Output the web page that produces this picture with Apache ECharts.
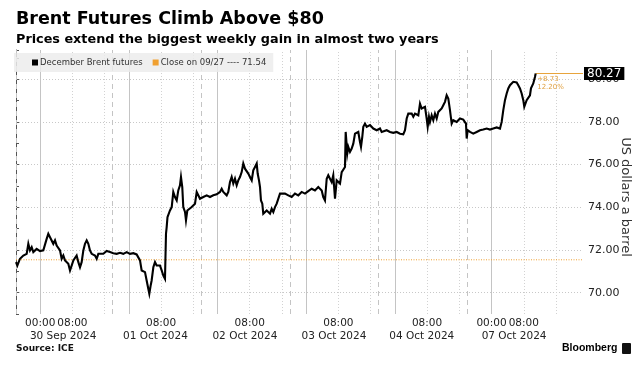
<!DOCTYPE html>
<html>
<head>
<meta charset="utf-8">
<script src="https://cdn.jsdelivr.net/npm/echarts@6/dist/echarts.min.js"></script>
<style>
html,body{margin:0;padding:0;background:#fff;}
#chart{width:644px;height:371px;}
</style>
</head>
<body>
<div id="chart"></div>
<script>
// x values are trading hours elapsed since the session open (Sun 29 Sep 18:00 ET)
const hours = [0,0.33,0.99,1.82,2.65,3.06,3.47,3.89,4.30,4.71,5.13,5.96,6.78,7.20,7.61,8.02,8.44,8.85,9.26,9.68,10.09,10.50,10.92,11.33,11.74,12.16,12.57,12.98,13.40,13.81,14.23,14.64,15.05,15.47,15.88,16.29,16.71,17.12,17.54,17.95,18.36,18.78,19.19,19.60,20.02,20.43,20.84,21.67,22.50,23.33,23.74,24.15,24.98,25.81,26.63,27.46,28.29,29.11,29.94,30.35,30.77,31.18,31.59,32.01,32.42,32.83,33.08,33.41,33.66,34.08,34.49,34.90,35.32,35.73,36.15,36.56,36.97,37.10,37.22,
37.39,37.59,38.21,38.64,39.03,39.45,39.88,40.27,40.69,40.94,41.26,41.51,41.94,42.18,42.51,43.00,43.60,44.00,44.42,44.84,45.24,45.66,46.08,46.48,47.32,48.14,48.96,49.80,50.62,51.04,51.44,51.86,52.28,52.68,53.10,53.52,53.92,54.34,54.76,55.16,55.58,56.00,56.40,56.82,57.24,57.64,58.06,58.49,58.88,59.31,59.73,59.97,60.30,60.55,60.79,61.12,61.36,61.79,62.21,62.61,63.03,63.45,63.85,64.27,64.69,65.09,65.51,65.93,66.75,67.57,68.41,69.23,70.05,70.89,71.71,72.53,73.37,74.19,75.01,75.86,76.25,76.67,77.10,77.49,77.92,78.34,78.73,79.16,79.58,79.98,80.40,80.82,81.22,81.64,81.81,82.21,82.46,82.88,83.30,83.70,84.12,84.54,84.94,85.36,85.61,85.93,86.18,86.60,87.02,87.42,87.84,88.66,89.08,89.50,90.32,90.74,91.14,91.98,92.80,93.62,94.47,95.29,96.11,96.53,96.95,97.35,97.77,98.19,98.59,99.01,99.43,99.83,100.25,100.67,101.07,101.49,101.91,102.16,102.48,102.73,103.15,103.55,103.97,104.39,104.79,105.21,105.63,106.03,106.45,106.87,107.27,107.69,108.11,108.51,108.93,109.35,109.75,110.17,110.59,110.99,111.41,111.66,111.84,112.08,112.66,113.47,114.31,115.14,115.95,116.80,117.62,118.44,119.28,120.10,120.52,120.92,121.34,121.76,122.16,122.58,123.00,123.40,123.82,124.24,124.64,125.06,125.48,125.88,126.13,126.48,126.72,127.12,127.54,127.79,128.11,128.36,128.61,128.78,128.96];
const prices = [71.43,71.27,71.59,71.74,71.82,72.29,71.98,72.13,71.90,71.98,72.05,71.95,71.98,72.01,72.52,72.76,72.60,72.68,72.29,72.45,72.21,72.13,71.98,71.59,71.74,71.51,71.59,71.35,71.04,71.27,71.51,71.59,71.74,71.43,71.19,71.43,71.98,72.29,72.45,72.29,71.98,71.82,71.90,71.74,71.59,71.82,71.90,71.82,71.95,71.90,71.98,71.85,71.82,71.87,71.82,71.90,71.82,71.85,71.79,71.74,71.51,71.04,71.12,70.96,70.57,70.18,69.95,70.33,70.57,71.19,71.43,71.27,71.35,71.27,71.04,70.80,70.65,70.60,72.76,
73.07,73.54,73.85,74.01,74.72,74.48,74.32,74.79,75.03,75.42,74.95,74.01,73.78,73.39,73.85,73.78,74.01,73.93,74.17,74.72,74.79,74.40,74.32,74.48,74.56,74.48,74.56,74.61,74.72,74.87,74.72,74.64,74.56,74.72,75.18,75.42,75.11,75.34,75.03,75.26,75.42,75.65,76.05,75.81,75.73,75.58,75.42,75.26,75.73,75.89,76.05,75.58,75.26,74.95,74.32,74.17,73.70,73.62,73.85,73.78,73.70,73.93,73.78,74.01,74.17,74.25,74.64,74.72,74.64,74.56,74.48,74.64,74.56,74.72,74.64,74.76,74.87,74.79,74.95,74.79,74.48,74.32,75.34,75.50,75.42,75.18,75.50,74.40,75.26,75.34,75.11,75.65,75.73,75.89,77.53,76.52,76.83,76.60,76.75,76.98,77.45,77.38,77.53,77.06,76.83,77.30,77.77,77.92,77.77,77.69,77.85,77.69,77.77,77.61,77.69,77.53,77.49,77.61,77.53,77.49,77.53,77.45,77.42,77.61,78.16,78.39,78.31,78.39,78.24,78.39,78.47,78.31,78.86,78.63,78.55,78.71,78.16,77.77,78.24,78.00,78.31,78.08,78.39,78.16,78.47,78.39,78.63,78.78,78.94,79.25,79.10,78.55,77.92,78.08,78.16,78.00,78.08,78.16,78.08,78.11,78.08,77.92,77.22,77.61,77.53,77.45,77.53,77.61,77.64,77.69,77.64,77.69,77.74,77.69,78.00,78.55,79.02,79.33,79.57,79.72,79.80,79.88,79.80,79.85,79.72,79.57,79.33,79.02,78.71,78.78,79.02,79.10,79.25,79.57,79.49,79.80,79.88,80.11,80.27];

const closePrice = 71.54;
const seriesName = 'December Brent futures';
const closeName = 'Close on 09/27 ---- 71.54';

const yTicks = [70, 72, 74, 76, 78, 80];
const sessionBreakHours = [0, 24, 46, 68, 90, 112];
const midnightHours = [6, 28, 50, 72, 94, 118];
const intradayHours = [14, 22, 36, 44, 58, 66, 80, 88, 102, 110, 126, 134];
const timeLabelHours = [6, 14, 36, 58, 80, 102, 118, 126];
const timeLabels = ['00:00', '08:00', '08:00', '08:00', '08:00', '08:00', '00:00', '08:00'];
const dateLabelHours = [11.7, 34.6, 56.8, 78.9, 100.7, 123.6];
const dateLabels = ['30 Sep 2024', '01 Oct 2024', '02 Oct 2024', '03 Oct 2024', '04 Oct 2024', '07 Oct 2024'];

const X_MAX = 140.7;
const Y_MIN = 69, Y_MAX = 81.37;
const FONT = 'DejaVu Sans';

const lastH = hours[hours.length - 1];
const lastV = prices[prices.length - 1];
const chg = lastV - closePrice;
const pct = chg / closePrice * 100;

function nearestLabel(vals, labels, v) {
  let best = 0;
  for (let i = 1; i < vals.length; i++) if (Math.abs(vals[i] - v) < Math.abs(vals[best] - v)) best = i;
  return Math.abs(vals[best] - v) < 0.5 ? labels[best] : '';
}

const gridLines = [];
yTicks.forEach(v => gridLines.push({ yAxis: v, lineStyle: { color: '#c8c8c8', type: [1, 2], width: 1 } }));
sessionBreakHours.forEach(h => gridLines.push({ xAxis: h, lineStyle: { color: '#c4c4c4', type: [5, 4], width: 1 } }));
midnightHours.forEach(h => gridLines.push({ xAxis: h, lineStyle: { color: '#c4c4c4', type: 'solid', width: 1 } }));
intradayHours.forEach(h => gridLines.push({ xAxis: h, lineStyle: { color: '#d2d2d2', type: [1, 2], width: 1 } }));

const chart = echarts.init(document.getElementById('chart'), null, { renderer: 'canvas' });
chart.setOption({
  animation: false,
  backgroundColor: '#fff',
  textStyle: { fontFamily: FONT },
  title: [
    { text: 'Brent Futures Climb Above $80', left: 16, top: 10, padding: 0,
      textStyle: { fontFamily: FONT, fontWeight: 'bold', fontSize: 17.5, color: '#000' } },
    { text: 'Prices extend the biggest weekly gain in almost two years', left: 16, top: 33, padding: 0,
      textStyle: { fontFamily: FONT, fontWeight: 'bold', fontSize: 12.8, color: '#000' } }
  ],
  legend: {
    left: 14, top: 53, padding: [5, 7, 5, 18],
    itemGap: 10, itemWidth: 6, itemHeight: 6, icon: 'rect',
    backgroundColor: 'rgba(236,236,236,0.85)',
    textStyle: { fontFamily: FONT, fontSize: 8.5, color: '#333', padding: [0, 0, 0, -3] },
    data: [{ name: seriesName, itemStyle: { color: '#000' } }, { name: closeName, itemStyle: { color: '#f0a030' } }]
  },
  grid: { left: 16, right: 61, top: 50, bottom: 57 },
  xAxis: [
    {
      type: 'value', min: 0, max: X_MAX,
      axisLine: { show: false }, axisTick: { show: false }, splitLine: { show: false },
      axisLabel: {
        customValues: timeLabelHours, margin: 4,
        fontFamily: FONT, fontSize: 10.5, color: '#222',
        formatter: v => nearestLabel(timeLabelHours, timeLabels, v)
      }
    },
    {
      type: 'value', min: 0, max: X_MAX, position: 'bottom', offset: 13,
      axisLine: { show: false }, axisTick: { show: false }, splitLine: { show: false },
      axisLabel: {
        customValues: dateLabelHours, margin: 4,
        fontFamily: FONT, fontSize: 10.5, color: '#222',
        formatter: v => nearestLabel(dateLabelHours, dateLabels, v)
      }
    }
  ],
  yAxis: {
    type: 'value', position: 'right', min: Y_MIN, max: Y_MAX, interval: 1,
    axisLine: { show: true, lineStyle: { color: '#555', width: 1 } },
    axisTick: { show: true, length: 3, lineStyle: { color: '#555' } },
    splitLine: { show: false },
    axisLabel: {
      margin: 5, fontFamily: FONT, fontSize: 11, color: '#222',
      formatter: v => (yTicks.indexOf(v) >= 0 ? v.toFixed(2) : '')
    }
  },
  graphic: [
    { type: 'text', left: 16, top: 344, style: { text: 'Source: ICE', font: 'bold 9px "DejaVu Sans"', fill: '#111' } },
    { type: 'text', left: 562, top: 343, style: { text: 'Bloomberg', font: 'bold 10.5px "Liberation Sans"', fill: '#000' } },
    { type: 'rect', left: 622, top: 343, shape: { width: 9, height: 11, r: 1 }, style: { fill: '#111' } },
    { type: 'text', x: 625, y: 197, rotation: -Math.PI / 2,
      style: { text: 'US dollars a barrel', font: '13px "DejaVu Sans"', fill: '#333', align: 'center', verticalAlign: 'middle' } }
  ],
  series: [
    {
      name: closeName, type: 'line', z: 2, silent: true,
      data: [[0, closePrice], [X_MAX, closePrice]],
      showSymbol: false, symbol: 'none',
      itemStyle: { color: '#f0a030' },
      lineStyle: { color: '#f0a030', width: 1, type: [1, 1.5] },
      markLine: { silent: true, symbol: 'none', label: { show: false }, z: 1, data: gridLines }
    },
    {
      name: seriesName, type: 'line', z: 5,
      data: hours.map((h, i) => [h, prices[i]]),
      showSymbol: false, symbol: 'none', smooth: false,
      itemStyle: { color: '#000' },
      lineStyle: { color: '#000', width: 2.1, join: 'miter' },
      markLine: {
        silent: true, symbol: 'none',
        lineStyle: { color: '#e8a43c', width: 1, type: 'solid' },
        label: {
          show: true, position: 'end', distance: 1,
          formatter: () => lastV.toFixed(2),
          backgroundColor: '#000', color: '#fff', fontFamily: FONT, fontSize: 12, padding: [1, 3, 0, 3]
        },
        data: [[{ coord: [lastH, lastV] }, { coord: [X_MAX, lastV] }]]
      },
      markPoint: {
        silent: true,
        data: [{
          coord: [lastH, lastV], symbol: 'circle', symbolSize: 1,
          itemStyle: { color: 'rgba(0,0,0,0)' },
          label: {
            show: true, position: [2, 2],
            formatter: '+' + chg.toFixed(2) + '\n' + pct.toFixed(2) + '%',
            color: '#e0a040', fontFamily: FONT, fontSize: 7, lineHeight: 8
          }
        }]
      }
    }
  ]
});
</script>
</body>
</html>
